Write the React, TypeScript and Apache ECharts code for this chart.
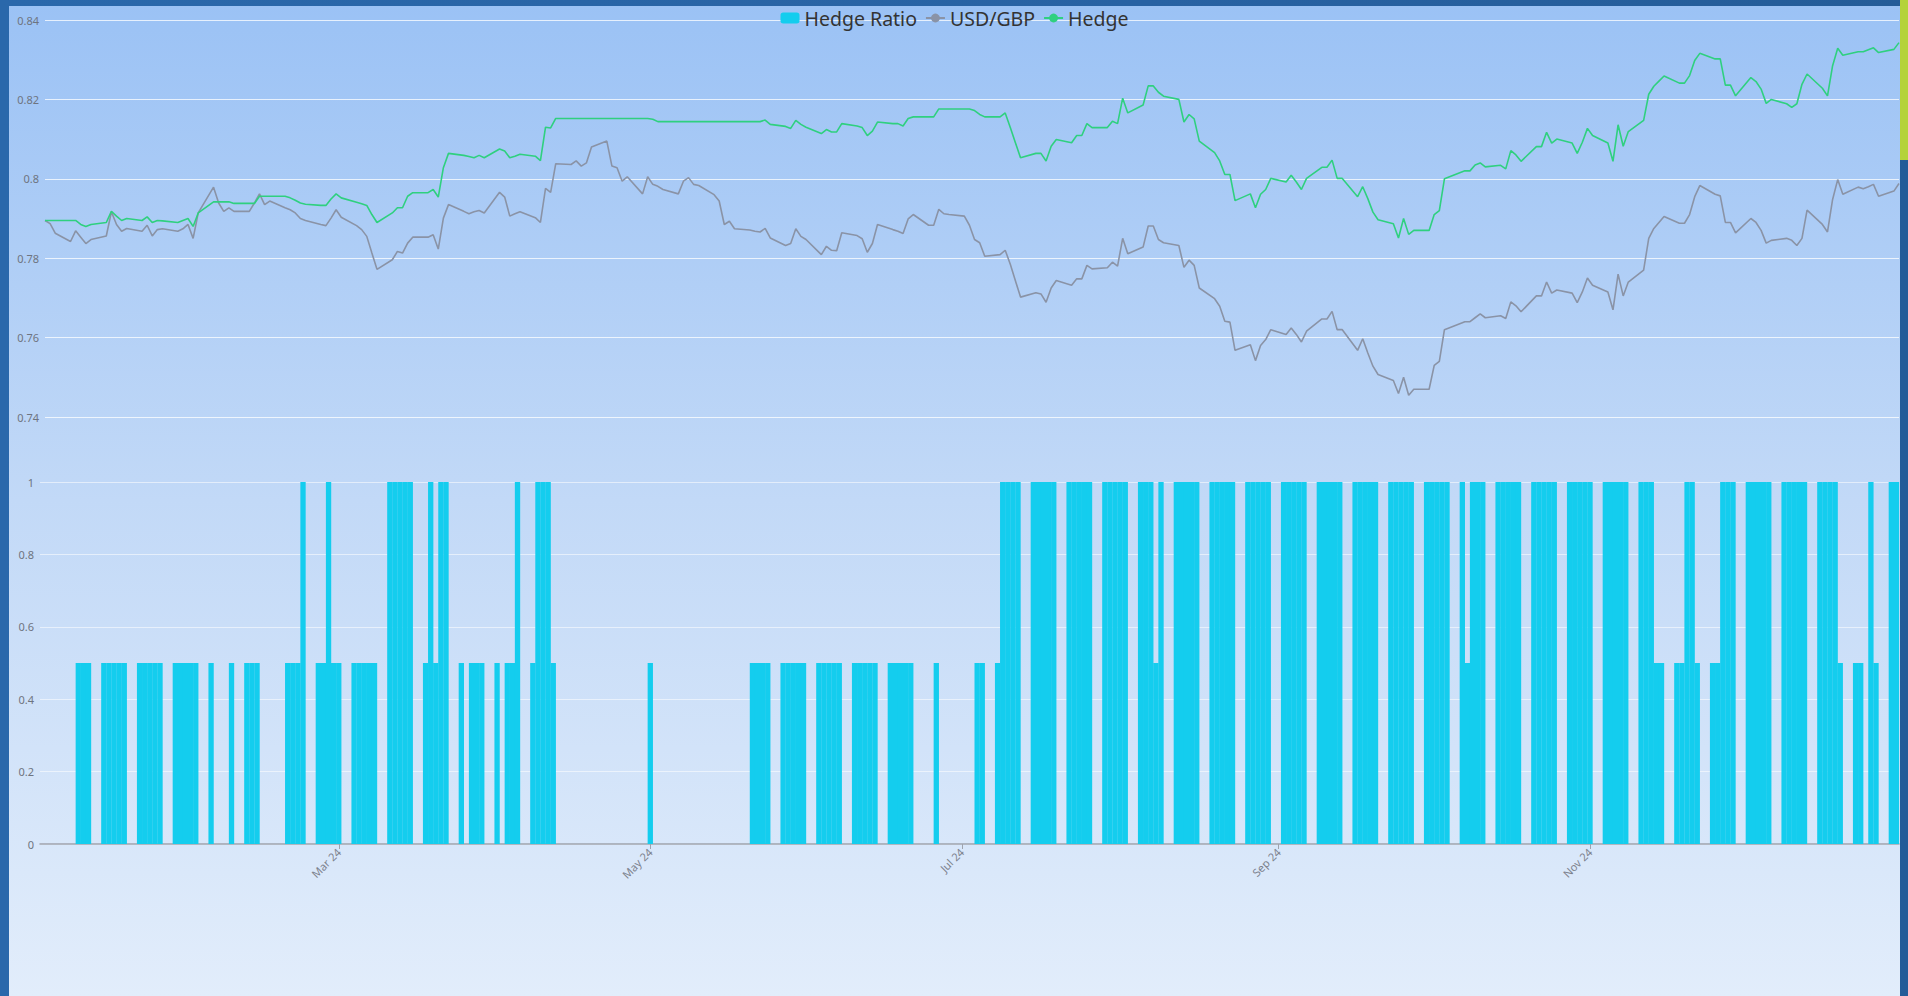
import React, { useEffect, useRef } from "react";
import * as echarts from "echarts";

// Business days: 2024-01-03 .. 2024-12-31 (weekdays)
const START_DATE = "2024-01-03";
const END_DATE = "2024-12-31";

// Axis label positions (tick labels)
const TICK_DATES = ["2024-03-01", "2024-05-01", "2024-07-01", "2024-09-01", "2024-11-01"];
const MONTHS = ["Jan", "Feb", "Mar", "Apr", "May", "Jun", "Jul", "Aug", "Sep", "Oct", "Nov", "Dec"];

const SERIES_NAMES = ["Hedge Ratio", "USD/GBP", "Hedge"];

// Hedge Ratio, one value per business day (rows = weeks)
const HEDGE_RATIO = [
  0, 0, 0,
  0, 0, 0.5, 0.5, 0.5,
  0.5, 0.5, 0.5, 0.5, 0.5,
  0.5, 0.5, 0.5, 0.5, 0.5,
  0.5, 0.5, 0.5, 0.5, 0.5,
  0.5, 0, 0, 0, 0.5,
  0.5, 0.5, 0.5, 0, 0,
  0, 0.5, 0.5, 0.5, 1,
  0.5, 0.5, 1, 0.5, 0.5,
  0.5, 0.5, 0.5, 0.5, 0.5,
  1, 1, 1, 1, 1,
  0.5, 1, 0.5, 1, 1,
  0.5, 0, 0.5, 0.5, 0.5,
  0.5, 0, 0.5, 0.5, 1,
  0.5, 1, 1, 1, 0.5,
  0, 0, 0, 0, 0,
  0, 0, 0, 0, 0,
  0, 0, 0.5, 0, 0,
  0, 0, 0, 0, 0,
  0, 0, 0, 0, 0,
  0, 0.5, 0.5, 0.5, 0.5,
  0.5, 0.5, 0.5, 0.5, 0.5,
  0.5, 0.5, 0.5, 0.5, 0.5,
  0.5, 0.5, 0.5, 0.5, 0.5,
  0.5, 0.5, 0.5, 0.5, 0.5,
  0, 0, 0.5, 0, 0,
  0, 0, 0, 0.5, 0.5,
  0.5, 1, 1, 1, 1,
  1, 1, 1, 1, 1,
  1, 1, 1, 1, 1,
  1, 1, 1, 1, 1,
  1, 1, 1, 0.5, 1,
  1, 1, 1, 1, 1,
  1, 1, 1, 1, 1,
  1, 1, 1, 1, 1,
  1, 1, 1, 1, 1,
  1, 1, 1, 1, 1,
  1, 1, 1, 1, 1,
  1, 1, 1, 1, 1,
  1, 1, 1, 1, 1,
  1, 0.5, 1, 1, 1,
  1, 1, 1, 1, 1,
  1, 1, 1, 1, 1,
  1, 1, 1, 1, 1,
  1, 1, 1, 1, 1,
  1, 1, 1, 0.5, 0.5,
  0.5, 0.5, 1, 1, 0.5,
  0.5, 0.5, 1, 1, 1,
  1, 1, 1, 1, 1,
  1, 1, 1, 1, 1,
  1, 1, 1, 1, 0.5,
  0.5, 0.5, 0, 1, 0.5,
  1, 1,
];

// USD/GBP spot
const USD_GBP = [
  0.7895, 0.7887, 0.7863,
  0.7842, 0.7869, 0.7853, 0.7837, 0.7847,
  0.7856, 0.7917, 0.7885, 0.7868, 0.7875,
  0.7868, 0.7883, 0.7856, 0.7872, 0.7874,
  0.7868, 0.7874, 0.7885, 0.785, 0.7914,
  0.7979, 0.7939, 0.7918, 0.7927, 0.7918,
  0.7918, 0.7939, 0.7962, 0.7935, 0.7944,
  0.7927, 0.7922, 0.7914, 0.79, 0.7895,
  0.7885, 0.7882, 0.7901, 0.7922, 0.7903,
  0.7882, 0.7872, 0.7855, 0.7813, 0.7772,
  0.7796, 0.7817, 0.7813, 0.7838, 0.7853,
  0.7853, 0.7859, 0.7823, 0.7901, 0.7935,
  0.7918, 0.7912, 0.7917, 0.792, 0.7914,
  0.7966, 0.7954, 0.7906, 0.7912, 0.7917,
  0.7902, 0.789, 0.7976, 0.7966, 0.8038,
  0.8036, 0.8045, 0.8032, 0.804, 0.808,
  0.8095, 0.8032, 0.8028, 0.7994, 0.8005,
  0.7962, 0.8005, 0.7986, 0.7981, 0.7973,
  0.7962, 0.7994, 0.8003, 0.7986, 0.7983,
  0.796, 0.7944, 0.7885, 0.7893, 0.7874,
  0.7871, 0.7868, 0.7866, 0.7875, 0.7851,
  0.7832, 0.7837, 0.7874, 0.7855, 0.7847,
  0.7809, 0.783, 0.782, 0.7819, 0.7864,
  0.7857, 0.7849, 0.7815, 0.7837, 0.7885,
  0.7872, 0.7868, 0.7862, 0.7899, 0.791,
  0.7883, 0.7883, 0.7923, 0.7912, 0.791,
  0.7906, 0.7883, 0.7847, 0.7839, 0.7805,
  0.7809, 0.782, 0.7785, 0.7743, 0.7702,
  0.7713, 0.771, 0.7689, 0.7725, 0.7744,
  0.7732, 0.7748, 0.7748, 0.7782, 0.7773,
  0.7776, 0.779, 0.778, 0.785, 0.7811,
  0.7828, 0.7881, 0.7881, 0.7847, 0.7839,
  0.7832, 0.7777, 0.7795, 0.7782, 0.7725,
  0.7698, 0.7679, 0.7641, 0.7639, 0.7568,
  0.7582, 0.7542, 0.758, 0.7595, 0.762,
  0.7608, 0.7624, 0.7608, 0.7589, 0.7616,
  0.7647, 0.7647, 0.7666, 0.762, 0.762,
  0.7568, 0.7597, 0.7561, 0.7528, 0.7507,
  0.7492, 0.7459, 0.75, 0.7455, 0.747,
  0.747, 0.753, 0.754, 0.762, 0.7625,
  0.764, 0.764, 0.765, 0.766, 0.765,
  0.7655, 0.7648, 0.769, 0.768, 0.7665,
  0.7705, 0.7705, 0.774, 0.7712, 0.772,
  0.7712, 0.7688, 0.7715, 0.775, 0.7732,
  0.7715, 0.767, 0.776, 0.7705, 0.774,
  0.777, 0.785, 0.7875, 0.789, 0.7905,
  0.7888, 0.7888, 0.791, 0.7955, 0.7983,
  0.7961, 0.7957, 0.789, 0.789, 0.7864,
  0.79, 0.789, 0.787, 0.7838, 0.7845,
  0.785, 0.7845, 0.7832, 0.785, 0.7921,
  0.7885, 0.7866, 0.7948, 0.7998, 0.7961,
  0.7979, 0.7975, 0.798, 0.7986, 0.7956,
  0.7969, 0.7988,
];

// Hedge (hedged rate)
const HEDGE = [
  0.7895, 0.7895, 0.7895,
  0.7895, 0.7895, 0.7885, 0.788, 0.7885,
  0.789, 0.7918, 0.7906, 0.7895, 0.79,
  0.7895, 0.7904, 0.789, 0.7895, 0.7894,
  0.789, 0.7895, 0.79, 0.788, 0.7914,
  0.7942, 0.7942, 0.7942, 0.7942, 0.7938,
  0.7938, 0.7938, 0.7956, 0.7956, 0.7956,
  0.7956, 0.7952, 0.7946, 0.7939, 0.7936,
  0.7933, 0.7933, 0.7949, 0.7962, 0.7952,
  0.7941, 0.7937, 0.7933, 0.791, 0.789,
  0.7914, 0.7927, 0.7927, 0.7956, 0.7965,
  0.7965, 0.7973, 0.7954, 0.8028, 0.8064,
  0.8059, 0.8056, 0.8053, 0.8059, 0.8053,
  0.8075, 0.807, 0.8053, 0.8057, 0.8062,
  0.8057, 0.8046, 0.813, 0.8128, 0.8152,
  0.8152, 0.8152, 0.8152, 0.8152, 0.8152,
  0.8152, 0.8152, 0.8152, 0.8152, 0.8152,
  0.8152, 0.8152, 0.815, 0.8144, 0.8144,
  0.8144, 0.8144, 0.8144, 0.8144, 0.8144,
  0.8144, 0.8144, 0.8144, 0.8144, 0.8144,
  0.8144, 0.8144, 0.8144, 0.8148, 0.8137,
  0.8132, 0.8127, 0.8147, 0.8137, 0.813,
  0.8114, 0.8124, 0.8118, 0.8118, 0.8139,
  0.8133, 0.8129, 0.8109, 0.812, 0.8143,
  0.8139, 0.8139, 0.8133, 0.8152, 0.8156,
  0.8156, 0.8156, 0.8176, 0.8176, 0.8176,
  0.8176, 0.8176, 0.8172, 0.8162, 0.8156,
  0.8156, 0.8166, 0.8129, 0.8091, 0.8053,
  0.8064, 0.8064, 0.8045, 0.8082, 0.8099,
  0.8091, 0.8109, 0.8109, 0.8139, 0.8129,
  0.8129, 0.8145, 0.8139, 0.8203, 0.8166,
  0.8186, 0.8234, 0.8234, 0.8218, 0.8208,
  0.82, 0.8143, 0.8162, 0.8151, 0.8095,
  0.8066, 0.8045, 0.8011, 0.8011, 0.7945,
  0.7962, 0.7927, 0.7961, 0.7973, 0.8001,
  0.7992, 0.8009, 0.7992, 0.7973, 0.8001,
  0.8029, 0.8029, 0.8047, 0.8001, 0.8001,
  0.7955, 0.798, 0.795, 0.7916, 0.7897,
  0.7887, 0.7851, 0.79, 0.786, 0.787,
  0.787, 0.791, 0.792, 0.8, 0.8005,
  0.802, 0.802, 0.8035, 0.804, 0.803,
  0.8034, 0.8025, 0.8071, 0.806, 0.8044,
  0.8081, 0.8081, 0.8117, 0.809, 0.81,
  0.809, 0.8064, 0.8092, 0.8127, 0.8109,
  0.809, 0.8044, 0.8136, 0.8082, 0.8119,
  0.8147, 0.8213, 0.8233, 0.8246, 0.8259,
  0.8241, 0.8241, 0.826, 0.8298, 0.8316,
  0.8302, 0.8302, 0.8236, 0.8236, 0.8209,
  0.8255, 0.8245, 0.8226, 0.819, 0.82,
  0.8189, 0.818, 0.8189, 0.8238, 0.8264,
  0.8228, 0.8209, 0.8285, 0.8329, 0.8311,
  0.832, 0.832, 0.8325, 0.833, 0.8318,
  0.8326, 0.8343,
];

const DAY = 86400000;

function businessDays(start: string, end: string): number[] {
  const out: number[] = [];
  const s = Date.parse(start + "T00:00:00Z");
  const e = Date.parse(end + "T00:00:00Z");
  for (let t = s; t <= e; t += DAY) {
    const wd = new Date(t).getUTCDay();
    if (wd !== 0 && wd !== 6) out.push(t);
  }
  return out;
}

export default function App() {
  const ref = useRef<HTMLDivElement>(null);

  useEffect(() => {
    if (!ref.current) return;
    const chart = echarts.init(ref.current, null, { renderer: "svg" });
    const dates = businessDays(START_DATE, END_DATE);
    const t0 = dates[0];
    const tN = dates[dates.length - 1];
    const ticks = TICK_DATES.map((d) => Date.parse(d + "T00:00:00Z"));
    const font = "'Noto Sans', 'Open Sans', sans-serif";

    const option: any = {
      animation: false,
      backgroundColor: "transparent",
      textStyle: { fontFamily: font },
      legend: {
        top: 2,
        left: "center",
        padding: 0,
        itemWidth: 19,
        itemHeight: 11,
        itemGap: 8,
        data: SERIES_NAMES,
        textStyle: { fontSize: 19.5, color: "#333", fontFamily: font },
      },
      grid: [
        { left: 36, top: 14, width: 1854, height: 397 },
        { left: 31, top: 476, width: 1859, height: 362 },
      ],
      xAxis: [
        { type: "value", gridIndex: 0, min: t0, max: tN, show: false, splitLine: { show: false } },
        {
          type: "value",
          gridIndex: 1,
          min: t0 - DAY / 2,
          max: tN + DAY / 2,
          axisLine: { show: true, lineStyle: { color: "#9ea3ad", width: 1.5 } },
          axisTick: { show: true, customValues: ticks, length: 5, lineStyle: { color: "#9ea3ad" } },
          splitLine: { show: false },
          axisLabel: {
            customValues: ticks,
            rotate: 45,
            fontSize: 11,
            color: "#7c818c",
            margin: 6,
            formatter: (v: number) => {
              const d = new Date(v);
              return MONTHS[d.getUTCMonth()] + " " + String(d.getUTCFullYear()).slice(2);
            },
          },
        },
      ],
      yAxis: [
        {
          type: "value",
          gridIndex: 0,
          min: 0.74,
          max: 0.84,
          interval: 0.02,
          axisLine: { show: false },
          axisTick: { show: false },
          axisLabel: { fontSize: 11, color: "#6e7480", margin: 6 },
          splitLine: { lineStyle: { color: "rgba(255,255,255,0.75)", width: 1 } },
        },
        {
          type: "value",
          gridIndex: 1,
          min: 0,
          max: 1,
          interval: 0.2,
          axisLine: { show: false },
          axisTick: { show: false },
          axisLabel: { fontSize: 11, color: "#6e7480", margin: 6 },
          splitLine: { lineStyle: { color: "rgba(255,255,255,0.55)", width: 1 } },
        },
      ],
      series: [
        {
          name: SERIES_NAMES[0],
          type: "bar",
          xAxisIndex: 1,
          yAxisIndex: 1,
          barWidth: "104%",
          data: dates.map((t, i) => [t, HEDGE_RATIO[i]]),
          itemStyle: { color: "#14cdee", borderWidth: 0 },
        },
        {
          name: SERIES_NAMES[1],
          type: "line",
          xAxisIndex: 0,
          yAxisIndex: 0,
          symbol: "circle",
          showSymbol: false,
          data: dates.map((t, i) => [t, USD_GBP[i]]),
          lineStyle: { color: "#8a93a6", width: 1.6 },
          itemStyle: { color: "#8a93a6" },
        },
        {
          name: SERIES_NAMES[2],
          type: "line",
          xAxisIndex: 0,
          yAxisIndex: 0,
          symbol: "circle",
          showSymbol: false,
          data: dates.map((t, i) => [t, HEDGE[i]]),
          lineStyle: { color: "#2fd07f", width: 1.6 },
          itemStyle: { color: "#2fd07f" },
        },
      ],
    };
    chart.setOption(option);
    return () => chart.dispose();
  }, []);

  return (
    <div style={{ position: "fixed", left: 0, top: 0, width: 1908, height: 996, background: "linear-gradient(90deg, #2a68ab, #2862a3 60%, #245c98)", overflow: "hidden" }}>
      <div style={{ position: "absolute", left: 1900, top: 0, width: 8, height: 160, background: "#b4d33a" }} />
      <div
        style={{
          position: "absolute",
          left: 9,
          top: 6,
          width: 1891,
          height: 990,
          background: "linear-gradient(180deg, #9bc2f5 0%, #c2d9f7 50%, #e2edfb 100%)",
        }}
      >
        <div ref={ref} style={{ width: 1891, height: 990 }} />
      </div>
    </div>
  );
}
